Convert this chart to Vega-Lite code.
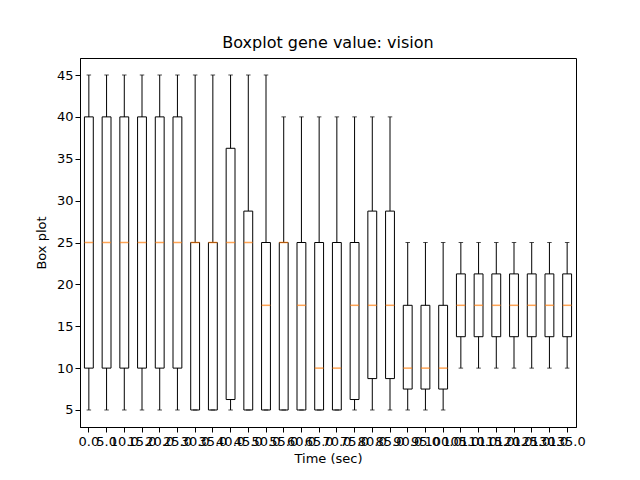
{
  "$schema": "https://vega.github.io/schema/vega-lite/v6.json",
  "width": 496,
  "height": 369,
  "padding": {"left": 80, "top": 58, "right": 64, "bottom": 53},
  "autosize": "none",
  "title": {"text": "Boxplot gene value: vision", "fontSize": 16, "fontWeight": "normal", "font": "DejaVu Sans", "color": "black", "offset": 7},
  "data": {"values": [
    {"t": "0.0", "lo": 5, "q1": 10, "med": 25, "q3": 40, "hi": 45},
    {"t": "5.0", "lo": 5, "q1": 10, "med": 25, "q3": 40, "hi": 45},
    {"t": "10.0", "lo": 5, "q1": 10, "med": 25, "q3": 40, "hi": 45},
    {"t": "15.0", "lo": 5, "q1": 10, "med": 25, "q3": 40, "hi": 45},
    {"t": "20.0", "lo": 5, "q1": 10, "med": 25, "q3": 40, "hi": 45},
    {"t": "25.0", "lo": 5, "q1": 10, "med": 25, "q3": 40, "hi": 45},
    {"t": "30.0", "lo": 5, "q1": 5, "med": 25, "q3": 25, "hi": 45},
    {"t": "35.0", "lo": 5, "q1": 5, "med": 25, "q3": 25, "hi": 45},
    {"t": "40.0", "lo": 5, "q1": 6.25, "med": 25, "q3": 36.25, "hi": 45},
    {"t": "45.0", "lo": 5, "q1": 5, "med": 25, "q3": 28.75, "hi": 45},
    {"t": "50.0", "lo": 5, "q1": 5, "med": 17.5, "q3": 25, "hi": 45},
    {"t": "55.0", "lo": 5, "q1": 5, "med": 25, "q3": 25, "hi": 40},
    {"t": "60.0", "lo": 5, "q1": 5, "med": 17.5, "q3": 25, "hi": 40},
    {"t": "65.0", "lo": 5, "q1": 5, "med": 10, "q3": 25, "hi": 40},
    {"t": "70.0", "lo": 5, "q1": 5, "med": 10, "q3": 25, "hi": 40},
    {"t": "75.0", "lo": 5, "q1": 6.25, "med": 17.5, "q3": 25, "hi": 40},
    {"t": "80.0", "lo": 5, "q1": 8.75, "med": 17.5, "q3": 28.75, "hi": 40},
    {"t": "85.0", "lo": 5, "q1": 8.75, "med": 17.5, "q3": 28.75, "hi": 40},
    {"t": "90.0", "lo": 5, "q1": 7.5, "med": 10, "q3": 17.5, "hi": 25},
    {"t": "95.0", "lo": 5, "q1": 7.5, "med": 10, "q3": 17.5, "hi": 25},
    {"t": "100.0", "lo": 5, "q1": 7.5, "med": 10, "q3": 17.5, "hi": 25},
    {"t": "105.0", "lo": 10, "q1": 13.75, "med": 17.5, "q3": 21.25, "hi": 25},
    {"t": "110.0", "lo": 10, "q1": 13.75, "med": 17.5, "q3": 21.25, "hi": 25},
    {"t": "115.0", "lo": 10, "q1": 13.75, "med": 17.5, "q3": 21.25, "hi": 25},
    {"t": "120.0", "lo": 10, "q1": 13.75, "med": 17.5, "q3": 21.25, "hi": 25},
    {"t": "125.0", "lo": 10, "q1": 13.75, "med": 17.5, "q3": 21.25, "hi": 25},
    {"t": "130.0", "lo": 10, "q1": 13.75, "med": 17.5, "q3": 21.25, "hi": 25},
    {"t": "135.0", "lo": 10, "q1": 13.75, "med": 17.5, "q3": 21.25, "hi": 25}
  ]},
  "encoding": {
    "x": {"field": "t", "type": "ordinal", "sort": null, "title": "Time (sec)",
      "scale": {"paddingInner": 0, "paddingOuter": 0},
      "axis": {"labelAngle": 0, "labelOverlap": false, "labelPadding": 3, "titlePadding": 4}}
  },
  "layer": [
    {"mark": {"type": "rule", "color": "black", "strokeWidth": 1},
      "encoding": {
        "y": {"field": "lo", "type": "quantitative", "title": "Box plot",
          "scale": {"domain": [2.97, 47.03], "nice": false, "zero": false},
          "axis": {"values": [5, 10, 15, 20, 25, 30, 35, 40, 45], "titlePadding": 8}},
        "y2": {"field": "hi"}}},
    {"mark": {"type": "bar", "fill": "white", "stroke": "black", "strokeWidth": 1, "width": {"band": 0.5}},
      "encoding": {"y": {"field": "q1", "type": "quantitative"}, "y2": {"field": "q3"}}},
    {"mark": {"type": "tick", "color": "black", "size": 4.5, "thickness": 1, "bandSize": 4.5},
      "encoding": {"y": {"field": "lo", "type": "quantitative"}}},
    {"mark": {"type": "tick", "color": "black", "size": 4.5, "thickness": 1, "bandSize": 4.5},
      "encoding": {"y": {"field": "hi", "type": "quantitative"}}},
    {"mark": {"type": "tick", "color": "#ff7f0e", "size": 8.8, "thickness": 1.5, "bandSize": 8.8},
      "encoding": {"y": {"field": "med", "type": "quantitative"}}}
  ],
  "config": {
    "font": "DejaVu Sans",
    "view": {"stroke": "black", "strokeWidth": 1},
    "axis": {"grid": false, "domainColor": "black", "tickColor": "black", "tickSize": 5,
      "labelFont": "DejaVu Sans", "labelFontSize": 13, "labelColor": "black",
      "titleFont": "DejaVu Sans", "titleFontSize": 13, "titleFontWeight": "normal", "titleColor": "black"}
  }
}
